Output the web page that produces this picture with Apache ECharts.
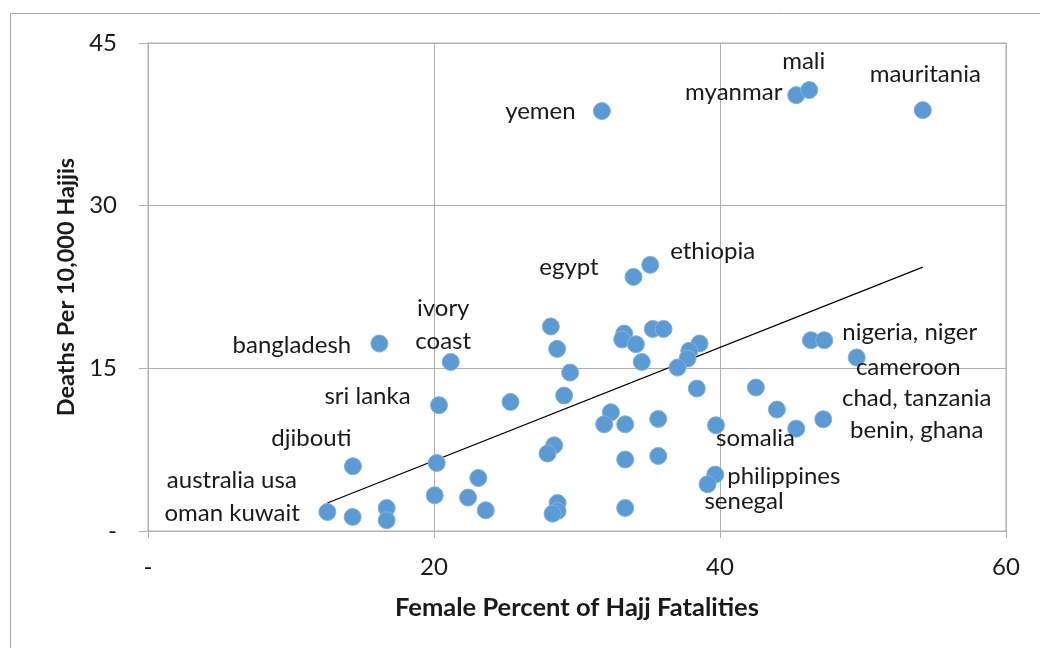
<!DOCTYPE html>
<html>
<head>
<meta charset="utf-8">
<script src="https://cdn.jsdelivr.net/npm/echarts@6/dist/echarts.min.js"></script>
<style>html,body{margin:0;padding:0;background:#fff}#c{width:1040px;height:648px}</style>
</head>
<body>
<div id="c"></div>
<script>
// ---- data ----
var femalePct = [16.18, 21.17, 20.35, 14.33, 20.19, 23.1, 20.05, 22.38, 23.62, 12.54, 14.31, 16.69, 16.69,
  33.95, 35.12, 28.17, 28.61, 29.52, 29.1, 25.35, 33.3, 33.16, 34.12, 35.3, 36.05, 34.53, 38.57, 37.85,
  37.73, 37.03, 38.38, 42.51, 43.98, 32.37, 31.9, 33.37, 35.68, 39.72, 28.4, 27.94, 33.37, 35.68, 39.67,
  39.13, 28.64, 28.64, 28.29, 33.37, 46.36, 47.29, 49.56, 47.22, 45.33, 31.74, 45.33, 46.24, 54.18];
var deathsPer10k = [17.29, 15.59, 11.6, 5.97, 6.27, 4.89, 3.29, 3.08, 1.91, 1.75, 1.29, 2.12, 0.99,
  23.43, 24.54, 18.86, 16.79, 14.61, 12.49, 11.9, 18.21, 17.66, 17.22, 18.63, 18.63, 15.59, 17.29, 16.61,
  15.9, 15.07, 13.14, 13.23, 11.2, 10.95, 9.84, 9.84, 10.33, 9.75, 7.9, 7.14, 6.59, 6.92, 5.2,
  4.31, 2.58, 1.85, 1.6, 2.12, 17.59, 17.59, 16.0, 10.3, 9.44, 38.72, 40.19, 40.66, 38.81];
var countryLabels = ['bangladesh', 'ivory\ncoast', 'sri lanka', 'djibouti', '', '', '', '', '', 'australia usa', 'oman kuwait', '', '',
  'egypt', 'ethiopia', '', '', '', '', '', '', '', '', '', '', '', '', '',
  '', '', '', '', '', '', '', '', '', 'somalia', '', '', '', '', 'philippines',
  'senegal', '', '', '', '', '', 'nigeria, niger', 'cameroon', 'chad, tanzania', 'benin, ghana', 'yemen', 'myanmar', 'mali', 'mauritania'];
var trendX = [12.54, 54.18];
var trendY = [2.58, 24.33];
var xTicks = [0, 20, 40, 60];
var yTicks = [0, 15, 30, 45];

// ---- label placement (pixel offsets of label centre from the point centre) ----
var labelOffsets = {
  'mali': [-5, -28], 'myanmar': [-62, -2], 'mauritania': [3, -35], 'yemen': [-61, 1],
  'egypt': [-64, -9], 'ethiopia': [63, -13], 'ivory\ncoast': [-7, -37], 'bangladesh': [-87, 2],
  'sri lanka': [-71, -8], 'djibouti': [-41, -27], 'australia usa': [-95, -31], 'oman kuwait': [-120, -3],
  'nigeria, niger': [86, -7], 'cameroon': [52, 10], 'chad, tanzania': [94, -21], 'benin, ghana': [121, 2],
  'somalia': [40, 13], 'philippines': [69, 2], 'senegal': [37, 18]
};

var FONT = 'Lato';
var SYM = 17;
var pts = femalePct.map(function (x, i) {
  var name = countryLabels[i];
  var item = { value: [x, deathsPer10k[i]], name: name };
  if (name) {
    var off = labelOffsets[name];
    item.label = { show: true, formatter: name, position: [SYM / 2 + off[0], SYM / 2 + off[1]],
      color: '#1a1a1a', fontFamily: FONT, fontSize: 24, lineHeight: 33, align: 'center', verticalAlign: 'middle' };
  }
  return item;
});
var trend = trendX.map(function (x, i) { return [x, trendY[i]]; });

var chart = echarts.init(document.getElementById('c'), null, { renderer: 'canvas' });
var tickFmt = function (v) { return v === 0 ? '-' : String(v); };
chart.setOption({
  animation: false,
  backgroundColor: '#fff',
  graphic: [{ type: 'rect', shape: { x: 10.5, y: 13.5, width: 1100, height: 700 }, style: { fill: 'none', stroke: '#a6a6a6', lineWidth: 1 }, silent: true, z: -1 }],
  grid: { left: 148, right: 34, top: 43, bottom: 117, show: true, borderColor: '#b0b0b0', borderWidth: 1 },
  xAxis: {
    type: 'value', min: xTicks[0], max: xTicks[xTicks.length - 1], interval: 20,
    name: 'Female Percent of Hajj Fatalities', nameLocation: 'middle', nameGap: 64,
    nameTextStyle: { fontFamily: FONT, fontWeight: 'bold', fontSize: 25.5, color: '#1a1a1a' },
    axisLine: { show: true, onZero: false, lineStyle: { color: '#b0b0b0', width: 1 } },
    axisTick: { show: true, length: 7, lineStyle: { color: '#b0b0b0' } },
    axisLabel: { formatter: tickFmt, margin: 24, fontFamily: FONT, fontSize: 24, color: '#1a1a1a' },
    splitLine: { show: true, lineStyle: { color: '#b0b0b0', width: 1 } }
  },
  yAxis: {
    type: 'value', min: yTicks[0], max: yTicks[yTicks.length - 1], interval: 15,
    name: 'Deaths Per 10,000 Hajjis', nameLocation: 'middle', nameGap: 68, nameRotate: 90,
    nameTextStyle: { fontFamily: FONT, fontWeight: 'bold', fontSize: 23.5, color: '#1a1a1a' },
    axisLine: { show: true, onZero: false, lineStyle: { color: '#b0b0b0', width: 1 } },
    axisTick: { show: true, length: 9, lineStyle: { color: '#b0b0b0' } },
    axisLabel: { formatter: tickFmt, margin: 31, fontFamily: FONT, fontSize: 24, color: '#1a1a1a' },
    splitLine: { show: true, lineStyle: { color: '#b0b0b0', width: 1 } }
  },
  series: [
    { type: 'line', data: trend, symbol: 'none', silent: true, z: 3,
      lineStyle: { color: '#000', width: 1.2 } },
    { type: 'scatter', data: pts, symbol: 'circle', symbolSize: SYM, z: 4,
      itemStyle: { color: '#5b9bd5', borderColor: '#7fb1e0', borderWidth: 1, opacity: 1 } }
  ]
});
</script>
</body>
</html>
